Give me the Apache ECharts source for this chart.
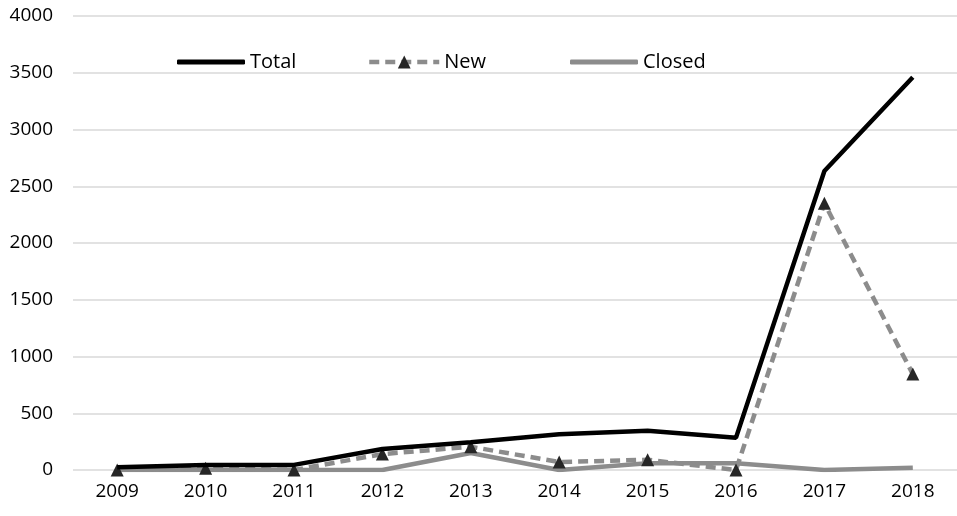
<!DOCTYPE html>
<html><head><meta charset="utf-8">
<script src="https://cdn.jsdelivr.net/npm/echarts@6/dist/echarts.min.js"></script>
<style>html,body{margin:0;padding:0;background:#fff}#c{width:957px;height:516px}</style>
</head><body><div id="c"></div>
<script>
const years = ['2009','2010','2011','2012','2013','2014','2015','2016','2017','2018'];
const totalVals = [25, 45, 45, 185, 245, 315, 345, 285, 2635, 3460];
const newVals = [0, 15, 0, 140, 205, 70, 90, 0, 2350, 845];
const closedVals = [0, 0, 0, 0, 150, 0, 60, 60, 0, 20];
const yTicks = [0, 500, 1000, 1500, 2000, 2500, 3000, 3500, 4000];

const font = 'Open Sans, Noto Sans, sans-serif';
const chart = echarts.init(document.getElementById('c'));
const legendText = {fontSize: 20, color: '#000', fontFamily: font};
chart.setOption({
  animation: false,
  grid: {left: 73, right: 0, top: 16, bottom: 46},
  legend: [
    {data: [{name: 'Total', icon: 'roundRect'}], left: 172, top: 47, itemWidth: 68, itemHeight: 5, textStyle: legendText},
    {data: ['New'], left: 362, top: 47, itemWidth: 70, itemHeight: 16, textStyle: legendText,
     lineStyle: {width: 4.5}},
    {data: [{name: 'Closed', icon: 'roundRect'}], left: 565, top: 47, itemWidth: 68, itemHeight: 5, textStyle: legendText}
  ],
  xAxis: {
    type: 'category', data: years, boundaryGap: true,
    axisLine: {show: false}, axisTick: {show: false},
    axisLabel: {fontSize: 19, color: '#000', fontFamily: font, margin: 12}
  },
  yAxis: {
    type: 'value', min: 0, max: yTicks[yTicks.length-1], interval: 500,
    axisLine: {show: false}, axisTick: {show: false},
    splitLine: {lineStyle: {color: '#d9d9d9', width: 1.5}},
    axisLabel: {fontSize: 19, color: '#000', fontFamily: font, margin: 20, formatter: v => String(v)}
  },
  series: [
    {name: 'Total', type: 'line', data: totalVals, symbol: 'none', z: 5,
     lineStyle: {color: '#000', width: 4.5}, itemStyle: {color: '#000'}},
    {name: 'New', type: 'line', data: newVals, symbol: 'triangle', symbolSize: 13, z: 4,
     lineStyle: {color: '#8c8c8c', width: 4.5, type: [10, 6]}, itemStyle: {color: '#262626'}},
    {name: 'Closed', type: 'line', data: closedVals, symbol: 'none', z: 3,
     lineStyle: {color: '#8c8c8c', width: 4.5}, itemStyle: {color: '#8c8c8c'}}
  ]
});
</script></body></html>
